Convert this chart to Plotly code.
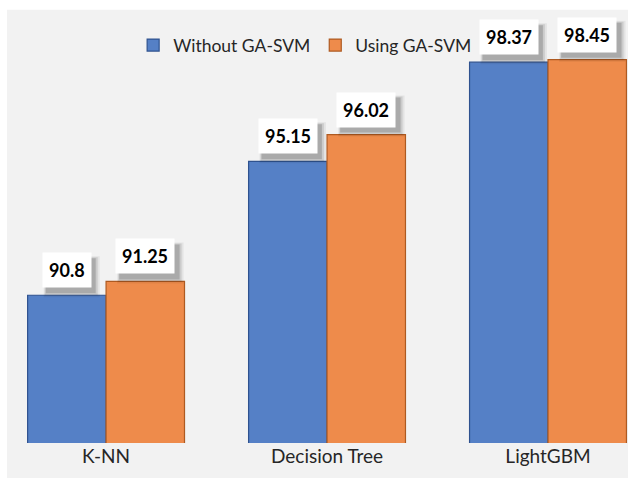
import plotly.graph_objects as go

categories = ["K-NN", "Decision Tree", "LightGBM"]
without_ga = [90.8, 95.15, 98.37]
using_ga = [91.25, 96.02, 98.45]
series_names = ["Without GA-SVM", "Using GA-SVM"]

BLUE = "#5580C6"
BLUE_EDGE = "#2F528F"
ORANGE = "#EE8B4B"
ORANGE_EDGE = "#AE5A21"
FONT = "Lato"

fig = go.Figure()
fig.add_trace(go.Bar(x=categories, y=without_ga, name=series_names[0],
                     marker=dict(color=BLUE, line=dict(color=BLUE_EDGE, width=1.2))))
fig.add_trace(go.Bar(x=categories, y=using_ga, name=series_names[1],
                     marker=dict(color=ORANGE, line=dict(color=ORANGE_EDGE, width=1.2))))


def label_width(txt):
    return sum(4.8 if ch == "." else 10.4 for ch in txt) + 12


annotations = []
shapes = [dict(type="rect", xref="paper", yref="paper", x0=7 / 628, x1=1.01,
               y0=-0.2, y1=1.005, layer="below",
               fillcolor="#F2F2F2", line=dict(width=0))]
for ti, vals in enumerate([without_ga, using_ga]):
    for ci, v in enumerate(vals):
        xpos = ci + (-0.178 if ti == 0 else 0.178)
        txt = f"{v:g}"
        w = label_width(txt)
        h = 33
        # soft shadow behind the label box
        for grow, a in [(4, 0.06), (2, 0.10), (0, 0.16)]:
            shapes.append(dict(type="rect", xref="x", yref="y", xsizemode="pixel", ysizemode="pixel",
                               xanchor=xpos, yanchor=v,
                               x0=-w / 2 + 3 - grow / 2, x1=w / 2 + 5 + grow,
                               y0=7 - 5 - grow, y1=7 + h - 3 + grow / 2,
                               fillcolor=f"rgba(0,0,0,{a})", line=dict(width=0), layer="above"))
        annotations.append(dict(x=xpos, y=v, xref="x", yref="y", text=f"<b>{txt}</b>",
                                showarrow=False, yanchor="bottom", yshift=7,
                                bgcolor="white", borderpad=6,
                                font=dict(family=FONT, size=18, color="black")))

fig.update_layout(
    width=628, height=478,
    margin=dict(l=0, r=0, t=12, b=35),
    paper_bgcolor="white",
    plot_bgcolor="rgba(0,0,0,0)",
    barmode="group",
    bargap=0.29,
    bargroupgap=0,
    font=dict(family=FONT, size=16, color="#262626"),
    showlegend=True,
    legend=dict(orientation="h", x=0.212, xanchor="left", y=0.923, yanchor="middle",
                bgcolor="rgba(0,0,0,0)", font=dict(family=FONT, size=17.5, color="#262626"),
                itemclick=False, tracegroupgap=0),
    xaxis=dict(range=[-0.48, 2.362], showgrid=False, zeroline=False, showline=False,
               ticks="", tickfont=dict(family=FONT, size=19, color="#262626"), fixedrange=True),
    yaxis=dict(range=[86, 100], visible=False, showgrid=False, fixedrange=True),
    annotations=annotations,
    shapes=shapes,
)

fig.write_html("out.html", config={"displayModeBar": False},
               post_script="document.body.style.margin='0';document.body.style.overflow='hidden';")
